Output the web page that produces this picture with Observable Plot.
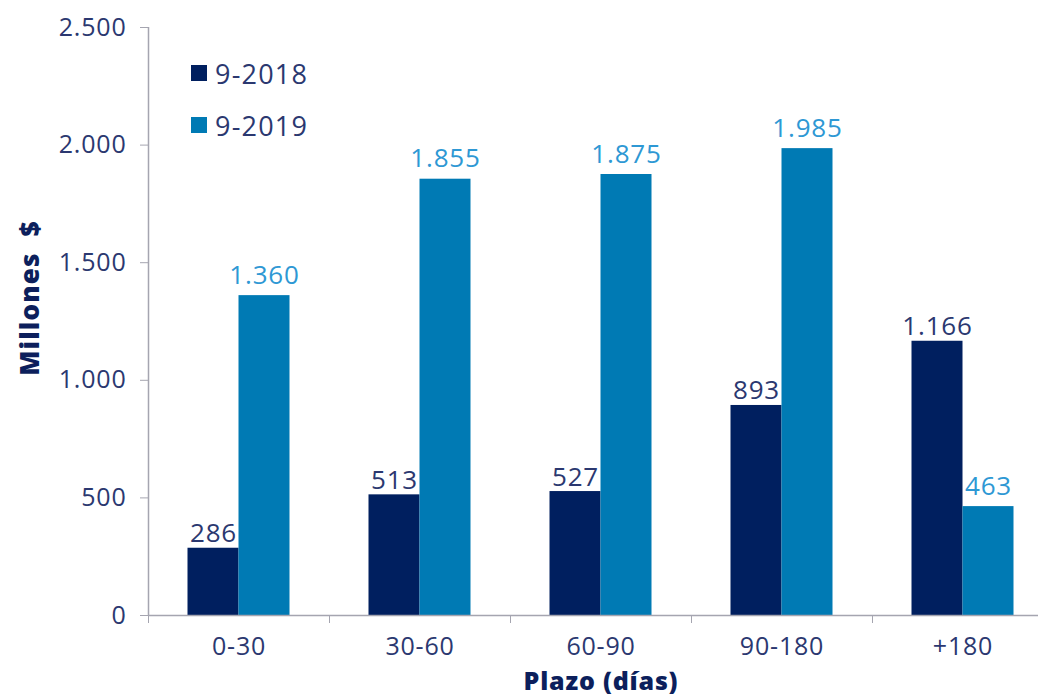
<!DOCTYPE html>
<html>
<head>
<meta charset="utf-8">
<script src="https://cdn.jsdelivr.net/npm/d3@7"></script>
<script src="https://cdn.jsdelivr.net/npm/@observablehq/plot@0.6"></script>
<style>
  html, body { margin: 0; padding: 0; background: #fff; }
  #wrap { position: relative; width: 1038px; height: 695px; overflow: hidden; font-family: "Open Sans", sans-serif; }
  #wrap svg { position: absolute; left: 0; top: 0; overflow: visible; }
  #wrap svg text { letter-spacing: 0.8px; }
  g[aria-label="x-axis label"] text { font-weight: 800; font-size: 25px; fill: #0c1f5c; letter-spacing: 0.6px; }
  .legend { position: absolute; left: 191px; top: 47px; color: #2b3870; font-size: 27px; letter-spacing: 1.2px; }
  .legend .item { display: flex; align-items: center; height: 52px; }
  .legend .sw { width: 16px; height: 16px; margin-right: 8px; }
  .ylab { position: absolute; left: 29px; top: 298px; transform: translate(-50%, -50%) rotate(-90deg); font-weight: 800; font-size: 26px; color: #0c1f5c; white-space: pre; letter-spacing: 1.2px; }
</style>
</head>
<body>
<div id="wrap"></div>
<script>
const categories = ["0-30", "30-60", "60-90", "90-180", "+180"];
const values2018 = [286, 513, 527, 893, 1166];
const values2019 = [1360, 1855, 1875, 1985, 463];
const seriesNames = ["9-2018", "9-2019"];
const yTicks = [0, 500, 1000, 1500, 2000, 2500];
const xTitle = "Plazo (días)";
const yTitle = "Millones  $";

const darkBlue = "#001f5f";
const lightBlue = "#007ab4";
const navyText = "#2b3870";
const lightText = "#2e98d4";
const axisGray = "#a5a5b0";

const locale = d3.formatLocale({decimal: ",", thousands: ".", grouping: [3], currency: ["$", ""]});
const fmt = locale.format(",d");

const rows = categories.map((c, i) => ({cat: c, v18: values2018[i], v19: values2019[i]}));

const half = 90.5, barW = 51;

const chart = Plot.plot({
  width: 1038,
  height: 695,
  marginLeft: 148,
  marginRight: -15,
  marginTop: 27,
  marginBottom: 80,
  style: {fontFamily: "'Open Sans', sans-serif", background: "transparent"},
  x: {domain: categories, padding: 0, axis: null},
  y: {domain: [0, 2500], axis: null},
  marks: [
    Plot.barY(rows, {x: "cat", y: "v18", fill: darkBlue, insetLeft: half - barW, insetRight: half}),
    Plot.barY(rows, {x: "cat", y: "v19", fill: lightBlue, insetLeft: half, insetRight: half - barW}),
    Plot.ruleY([0], {stroke: axisGray, strokeWidth: 1.5}),
    Plot.ruleX([categories[0]], {x: d => d, dx: -half, stroke: axisGray, strokeWidth: 1.5}),
    Plot.axisY({ticks: yTicks, tickSize: 8, tickPadding: 14, tickFormat: fmt, stroke: axisGray, fill: navyText, fontSize: 25, label: null}),
    Plot.axisX({tickSize: 8, dx: -half, tickFormat: () => "", stroke: axisGray, label: null}),
    Plot.axisX({tickSize: 0, tickPadding: 22, fill: navyText, fontSize: 25, label: xTitle, labelAnchor: "center", labelOffset: 74, labelArrow: "none"}),
    Plot.text(rows, {x: "cat", y: "v18", text: d => fmt(d.v18), dx: -barW / 2, dy: -6, lineAnchor: "bottom", fill: navyText, fontSize: 26}),
    Plot.text(rows, {x: "cat", y: "v19", text: d => fmt(d.v19), dx: barW / 2, dy: -12, lineAnchor: "bottom", fill: lightText, fontSize: 26})
  ]
});

const wrap = document.getElementById("wrap");
wrap.appendChild(chart);

const legend = document.createElement("div");
legend.className = "legend";
[darkBlue, lightBlue].forEach((col, i) => {
  const item = document.createElement("div");
  item.className = "item";
  const sw = document.createElement("span");
  sw.className = "sw";
  sw.style.background = col;
  const t = document.createElement("span");
  t.textContent = seriesNames[i];
  item.appendChild(sw);
  item.appendChild(t);
  legend.appendChild(item);
});
wrap.appendChild(legend);

const yl = document.createElement("div");
yl.className = "ylab";
yl.textContent = yTitle;
wrap.appendChild(yl);
</script>
</body>
</html>
